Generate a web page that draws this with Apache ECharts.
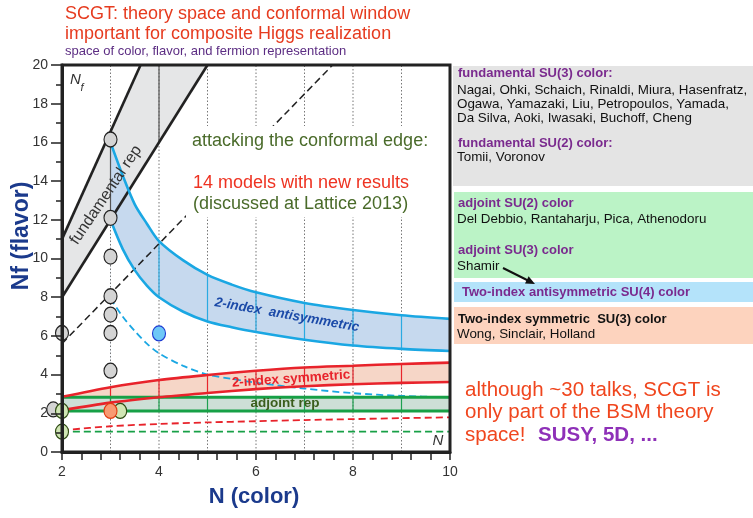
<!DOCTYPE html>
<html><head><meta charset="utf-8">
<script src="https://cdn.jsdelivr.net/npm/echarts@6/dist/echarts.min.js"></script>
<style>html,body{margin:0;padding:0;background:#fff}#c{width:753px;height:518px}</style>
</head><body><div id="c"></div>
<script>
const FONT = '"Liberation Sans", Arial, Helvetica, sans-serif';

// ---- axes ----
const xMin = 2, xMax = 10, xStep = 2;
const yMin = 0, yMax = 20, yStep = 2;
const gridN = [3, 4, 5, 6, 7, 8, 9];

// ---- fundamental representation band (straight edges) ----
const fundUpper = [[2, 11.0], [3.62, 20]];
const fundLower = [[2, 8.0], [5.0, 20]];
const diagDashed = [[2, 5.6], [7.58, 20]];

// ---- 2-index antisymmetric ----
const asN      = [3, 3.25, 3.5, 3.75, 4, 4.5, 5, 5.5, 6, 7, 8, 9, 10];
const asUpper  = [16.0, 14.3, 12.8, 11.8, 10.9, 9.9, 9.15, 8.65, 8.25, 7.7, 7.34, 7.07, 6.88];
const asLower  = [12.0, 10.5, 9.4, 8.6, 8.0, 7.25, 6.75, 6.45, 6.2, 5.8, 5.5, 5.33, 5.22];
const asDashed = [7.95, 7.0, 6.25, 5.6, 5.1, 4.45, 4.0, 3.78, 3.58, 3.28, 3.04, 2.9, 2.83];

// ---- 2-index symmetric ----
const symN      = [2, 3, 4, 5, 6, 7, 8, 9, 10];
const symUpper  = [2.85, 3.35, 3.72, 3.98, 4.2, 4.37, 4.46, 4.55, 4.62];
const symLower  = [2.15, 2.55, 2.83, 3.05, 3.25, 3.4, 3.5, 3.57, 3.62];
const symDashed = [1.12, 1.33, 1.45, 1.53, 1.59, 1.65, 1.7, 1.75, 1.79];

// ---- adjoint ----
const adjN      = [2, 10];
const adjUpper  = [2.83, 2.83];
const adjLower  = [2.12, 2.12];
const adjDashed = [1.05, 1.05];

// ---- lattice studies (points) ----
const grayPts   = [[3, 16.15], [3, 12.1], [3, 10.1], [3, 8.05], [3, 7.1], [3, 6.15], [3, 4.2], [2, 6.15], [1.82, 2.2]];
const greenPts  = [[2, 2.12], [2, 1.05], [3.2, 2.12]];
const orangePts = [[3, 2.12]];
const bluePts   = [[4, 6.13]];

// ---- colours ----
const C = {
  black: '#222', grayFill: '#e5e6e7', blue: '#1aa7e3', blueFill: '#c6d9ee',
  red: '#e8232b', redFill: '#f6d6c7', green: '#17a046', greenFill: '#cddfd6'
};

const pairs = (ns, vs) => ns.map((n, i) => [n, vs[i]]);
function lin(pts, n) {
  const [a, b] = pts;
  return a[1] + (b[1] - a[1]) * (n - a[0]) / (b[0] - a[0]);
}

// colored grid segments inside the bands
const segColors = ['#555', '#2aaae2', '#e8262c', '#1ea050'];
const segs = [];
[3, 4].forEach(n => {
  const lo = lin(fundLower, n), hi = Math.min(lin(fundUpper, n), yMax);
  if (lo < yMax) segs.push([n, lo, hi, 0]);
});
gridN.forEach(n => {
  const i = asN.indexOf(n);
  if (n >= 4 && i >= 0) segs.push([n, asLower[i], asUpper[i], 1]);
  const j = symN.indexOf(n);
  if (j >= 0) segs.push([n, symLower[j], symUpper[j], 2]);
  segs.push([n, adjLower[0], adjUpper[0], 3]);
});

const ELLIPSE = 'path://M0,-1 A1,1 0 1,1 0,1 A1,1 0 1,1 0,-1 Z';
const SMOOTH = 0.3;

// a band fill = area under the upper curve in band colour, then area under the lower curve in white
function fillBand(ns, lo, hi, color) {
  return [
    {type: 'line', data: pairs(ns, hi), symbol: 'none', smooth: SMOOTH, silent: true, z: 2,
     lineStyle: {opacity: 0}, areaStyle: {color: color, opacity: 1, origin: 'start'}},
    {type: 'line', data: pairs(ns, lo), symbol: 'none', smooth: SMOOTH, silent: true, z: 2,
     lineStyle: {opacity: 0}, areaStyle: {color: '#fff', opacity: 1, origin: 'start'}}
  ];
}
function edge(data, color, width, dashed) {
  return {type: 'line', data: data, symbol: 'none', smooth: SMOOTH, silent: true, z: 3,
    lineStyle: {color: color, width: width, type: dashed ? [7, 4] : 'solid'}};
}
function pts(data, fill, stroke) {
  return {type: 'scatter', data: data, symbol: ELLIPSE, symbolSize: [13, 15], clip: false, z: 6,
    itemStyle: {color: fill, borderColor: stroke, borderWidth: 1.2, opacity: 1}, silent: true};
}
function txt(x, y, text, font, fill, extra) {
  return {type: 'text', x: x, y: y, z: 60,
    style: Object.assign({text: text, font: font, fill: fill, align: 'left', verticalAlign: 'middle',
      textAlign: 'left', textVerticalAlign: 'middle'}, extra || {})};
}
function rtxt(x, y, deg, text, font, fill) {
  return {type: 'text', x: x, y: y, rotation: deg * Math.PI / 180, z: 60,
    style: {text: text, font: font, fill: fill, align: 'center', verticalAlign: 'middle',
      textAlign: 'center', textVerticalAlign: 'middle'}};
}

const series = [
  // fundamental band fill
  {type: 'custom', data: [[2, 8]], encode: {x: 0, y: 1}, z: 2, silent: true,
   renderItem: (p, api) => {
     const poly = fundUpper.concat(fundLower.slice().reverse()).map(q => api.coord(q));
     return {type: 'polygon', shape: {points: poly}, style: {fill: C.grayFill}};
   }},
  ...fillBand(asN, asLower, asUpper, C.blueFill),
  ...fillBand(symN, symLower, symUpper, C.redFill),
  ...fillBand(adjN, adjLower, adjUpper, C.greenFill),
  // dotted vertical grid lines
  {type: 'custom', data: gridN.map(n => [n, yMin, yMax]), encode: {x: 0, y: [1, 2]}, z: 2, silent: true,
   renderItem: (p, api) => {
     const a = api.coord([api.value(0), api.value(1)]), b = api.coord([api.value(0), api.value(2)]);
     return {type: 'line', shape: {x1: a[0], y1: a[1], x2: b[0], y2: b[1]},
       style: {stroke: '#777', lineWidth: 1, lineDash: [1.5, 2]}};
   }},
  // solid colored grid segments inside bands
  {type: 'custom', data: segs, encode: {x: 0, y: [1, 2]}, z: 2, silent: true,
   renderItem: (p, api) => {
     const a = api.coord([api.value(0), api.value(1)]), b = api.coord([api.value(0), api.value(2)]);
     return {type: 'line', shape: {x1: a[0], y1: a[1], x2: b[0], y2: b[1]},
       style: {stroke: segColors[api.value(3)], lineWidth: 1.2}};
   }},
  edge(fundUpper, C.black, 2.6), edge(fundLower, C.black, 2.6),
  edge(diagDashed, C.black, 1.5, true),
  edge(pairs(asN, asUpper), C.blue, 2.6), edge(pairs(asN, asLower), C.blue, 2.6),
  edge(pairs(asN, asDashed), C.blue, 1.8, true),
  edge(pairs(adjN, adjUpper), C.green, 3), edge(pairs(adjN, adjLower), C.green, 3),
  edge(pairs(adjN, adjDashed), C.green, 1.8, true),
  edge(pairs(symN, symUpper), C.red, 2.6), edge(pairs(symN, symLower), C.red, 2.6),
  edge(pairs(symN, symDashed), C.red, 1.8, true),
  pts(grayPts, '#d4d4d4', '#222'),
  pts(greenPts, '#d0e6b4', '#2d4a12'),
  pts(orangePts, '#f89a72', '#e23a10'),
  pts(bluePts, '#6ec8f7', '#1b3ad2')
];

const graphic = [
  // title
  txt(65, 14, 'SCGT: theory space and conformal window', '18px ' + FONT, '#e63b1f'),
  txt(65, 34, 'important for composite Higgs realization', '18px ' + FONT, '#e63b1f'),
  txt(65, 51, 'space of color, flavor, and fermion representation', '13px ' + FONT, '#5c2d83'),
  // axis names
  rtxt(22, 236, 90, 'Nf (flavor)', 'bold 23px ' + FONT, '#1b3a8c'),
  txt(254, 497, 'N (color)', 'bold 22px ' + FONT, '#1b3a8c', {align: 'center', textAlign: 'center'}),
  // in-plot labels
  txt(70, 80, 'N', 'italic 15px ' + FONT, '#333'),
  txt(80.5, 88, 'f', 'italic 11px ' + FONT, '#333'),
  txt(438, 441, 'N', 'italic 15px ' + FONT, '#333', {align: 'center', textAlign: 'center'}),
  rtxt(106, 195, 56, 'fundamental rep', '16px ' + FONT, '#333'),
  rtxt(287, 315, -10, '2-index  antisymmetric', 'italic bold 13.5px ' + FONT, '#1b4aa8'),
  rtxt(291, 379, 4, '2-index symmetric', 'bold 13.5px ' + FONT, '#e8232b'),
  txt(285, 403, 'adjoint rep', 'bold 13.5px ' + FONT, '#3b5e1d', {align: 'center', textAlign: 'center'}),
  // white panel behind annotation
  {type: 'rect', shape: {x: 186, y: 126, width: 252, height: 91}, style: {fill: '#fff'}, z: 55},
  txt(192, 141, 'attacking the conformal edge:', '18px ' + FONT, '#4a6b2a'),
  txt(193, 183, '14 models with new results', '18px ' + FONT, '#ee3322'),
  txt(193, 204, '(discussed at Lattice 2013)', '18px ' + FONT, '#4a6b2a'),
  // right panel boxes
  {type: 'rect', shape: {x: 453, y: 66, width: 300, height: 120}, style: {fill: '#e4e4e4'}, z: 50},
  {type: 'rect', shape: {x: 454, y: 192, width: 299, height: 86}, style: {fill: '#bbf3c6'}, z: 50},
  {type: 'rect', shape: {x: 454, y: 282, width: 299, height: 20}, style: {fill: '#b4e3fa'}, z: 50},
  {type: 'rect', shape: {x: 454, y: 307, width: 299, height: 37}, style: {fill: '#fdd3be'}, z: 50},
  txt(458, 73, 'fundamental SU(3) color:', 'bold 13px ' + FONT, '#7a2a8e'),
  txt(457, 90, 'Nagai, Ohki, Schaich, Rinaldi, Miura, Hasenfratz,', '13.4px ' + FONT, '#111'),
  txt(457, 104, 'Ogawa, Yamazaki, Liu, Petropoulos, Yamada,', '13.4px ' + FONT, '#111'),
  txt(457, 118, 'Da Silva, Aoki, Iwasaki, Buchoff, Cheng', '13.4px ' + FONT, '#111'),
  txt(458, 143, 'fundamental SU(2) color:', 'bold 13px ' + FONT, '#7a2a8e'),
  txt(457, 157, 'Tomii, Voronov', '13.4px ' + FONT, '#111'),
  txt(458, 203, 'adjoint SU(2) color', 'bold 13px ' + FONT, '#7a2a8e'),
  txt(457, 219, 'Del Debbio, Rantaharju, Pica, Athenodoru', '13.4px ' + FONT, '#111'),
  txt(458, 250, 'adjoint SU(3) color', 'bold 13px ' + FONT, '#7a2a8e'),
  txt(457, 266, 'Shamir', '13.4px ' + FONT, '#111'),
  txt(462, 292, 'Two-index antisymmetric SU(4) color', 'bold 13px ' + FONT, '#7a2a8e'),
  txt(458, 319, 'Two-index symmetric  SU(3) color', 'bold 13px ' + FONT, '#111'),
  txt(457, 334, 'Wong, Sinclair, Holland', '13.4px ' + FONT, '#111'),
  {type: 'line', shape: {x1: 503, y1: 268, x2: 529, y2: 281}, style: {stroke: '#111', lineWidth: 2}, z: 61},
  {type: 'polygon', shape: {points: [[535, 284], [525, 283.5], [528.6, 276.3]]}, style: {fill: '#111'}, z: 61},
  // bottom-right note
  txt(465, 390, 'although ~30 talks, SCGT is', '20.5px ' + FONT, '#f0461e'),
  txt(465, 412, 'only part of the BSM theory', '20.5px ' + FONT, '#f0461e'),
  txt(465, 435, 'space!', '20.5px ' + FONT, '#f0461e'),
  txt(538, 435, 'SUSY, 5D, ...', 'bold 20.5px ' + FONT, '#8e30b8')
];

const chart = echarts.init(document.getElementById('c'), null, {renderer: 'canvas'});
chart.setOption({
  animation: false,
  backgroundColor: '#fff',
  textStyle: {fontFamily: FONT},
  grid: {left: 62, right: 303, top: 65, bottom: 66, show: true, borderColor: '#222', borderWidth: 3,
    backgroundColor: 'transparent', z: 20},
  xAxis: {type: 'value', min: xMin, max: xMax, interval: xStep, z: 20,
    axisLine: {show: true, onZero: false, lineStyle: {color: '#222', width: 3}},
    axisTick: {show: true, inside: false, length: 8, lineStyle: {color: '#222', width: 1.5}},
    minorTick: {show: true, splitNumber: 5, length: 8, lineStyle: {color: '#222', width: 1.5}},
    splitLine: {show: false}, minorSplitLine: {show: false},
    axisLabel: {color: '#333', fontSize: 14, margin: 13, fontFamily: FONT}},
  yAxis: {type: 'value', min: yMin, max: yMax, interval: yStep, z: 20,
    axisLine: {show: true, onZero: false, lineStyle: {color: '#222', width: 3}},
    axisTick: {show: true, inside: false, length: 11, lineStyle: {color: '#222', width: 1.5}},
    minorTick: {show: true, splitNumber: 2, length: 6, lineStyle: {color: '#222', width: 1.5}},
    splitLine: {show: false}, minorSplitLine: {show: false},
    axisLabel: {color: '#333', fontSize: 14, margin: 14, fontFamily: FONT}},
  series: series,
  graphic: graphic
});
</script></body></html>
